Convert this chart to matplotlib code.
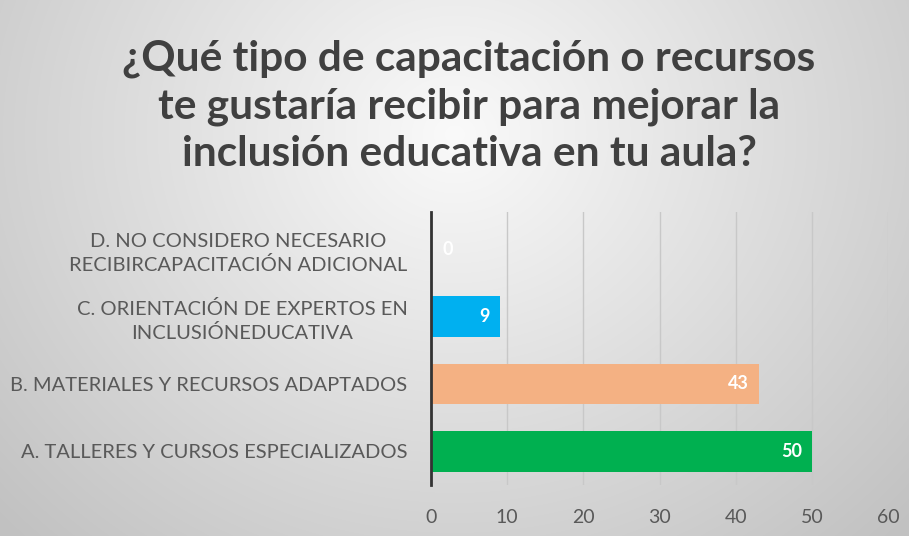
import numpy as np
import matplotlib.pyplot as plt

categories = ['A. TALLERES Y CURSOS ESPECIALIZADOS',
              'B. MATERIALES Y RECURSOS ADAPTADOS',
              'C. ORIENTACIÓN DE EXPERTOS EN\nINCLUSIÓNEDUCATIVA',
              'D. NO CONSIDERO NECESARIO\nRECIBIRCAPACITACIÓN ADICIONAL']
values = [50, 43, 9, 0]
colors = ['#00B050', '#F4B183', '#00B0F0', '#5B9BD5']
xticks = [0, 10, 20, 30, 40, 50, 60]
title = '¿Qué tipo de capacitación o recursos\nte gustaría recibir para mejorar la\ninclusión educativa en tu aula?'

plt.rcParams['font.family'] = ['Lato', 'DejaVu Sans']

W, H = 909, 536
fig = plt.figure(figsize=(W / 100, H / 100), dpi=100)

# radial gradient background
bg = fig.add_axes([0, 0, 1, 1])
yy, xx = np.mgrid[0:H, 0:W]
r = np.sqrt(((xx - W * 0.5) / (W * 0.62)) ** 2 + ((yy - H * 0.25) / (H * 0.95)) ** 2)
shade = np.clip(0.98 - 0.2 * r, 0.76, 0.98)
bg.imshow(np.dstack([shade] * 3), aspect='auto', extent=[0, 1, 0, 1])
bg.set_xlim(0, 1)
bg.set_ylim(0, 1)
bg.axis('off')

fig.text(469 / W, 1 - 106 / H, title, ha='center', va='center', fontsize=30.5,
         color='#404040', fontweight='bold', linespacing=1.3)

ax = fig.add_axes([431 / W, 1 - 485 / H, (888 - 431) / W, (485 - 212) / H])
ax.patch.set_alpha(0)
y = np.arange(len(categories))
bars = ax.barh(y, values, height=0.6, color=colors, zorder=3)
for b, v in zip(bars, values):
    ax.text(v - 1.3 if v > 5 else 1.5, b.get_y() + b.get_height() / 2, str(v),
            ha='right' if v > 5 else 'left', va='center', color='white',
            fontsize=13, fontweight='bold', zorder=4)

ax.set_xlim(0, 60)
ax.set_ylim(-0.5, 3.55)
ax.set_xticks(xticks)
ax.set_yticks(y)
ax.set_yticklabels(categories, fontsize=14.5, color='#595959', ha='right')
ax.tick_params(axis='x', labelsize=14, colors='#595959', length=0, pad=17)
ax.tick_params(axis='y', length=0, pad=17)
ax.grid(axis='x', color='#C8C8C8', linewidth=1, zorder=0)
for s in ['top', 'right', 'bottom']:
    ax.spines[s].set_visible(False)
ax.spines['left'].set_color('#333333')
ax.spines['left'].set_linewidth(2)
ax.spines['left'].set_zorder(5)

for lab in ax.get_yticklabels():
    lab.set_multialignment('center')
    lab.set_linespacing(1.4)

fig.savefig('out.png', dpi=100)
